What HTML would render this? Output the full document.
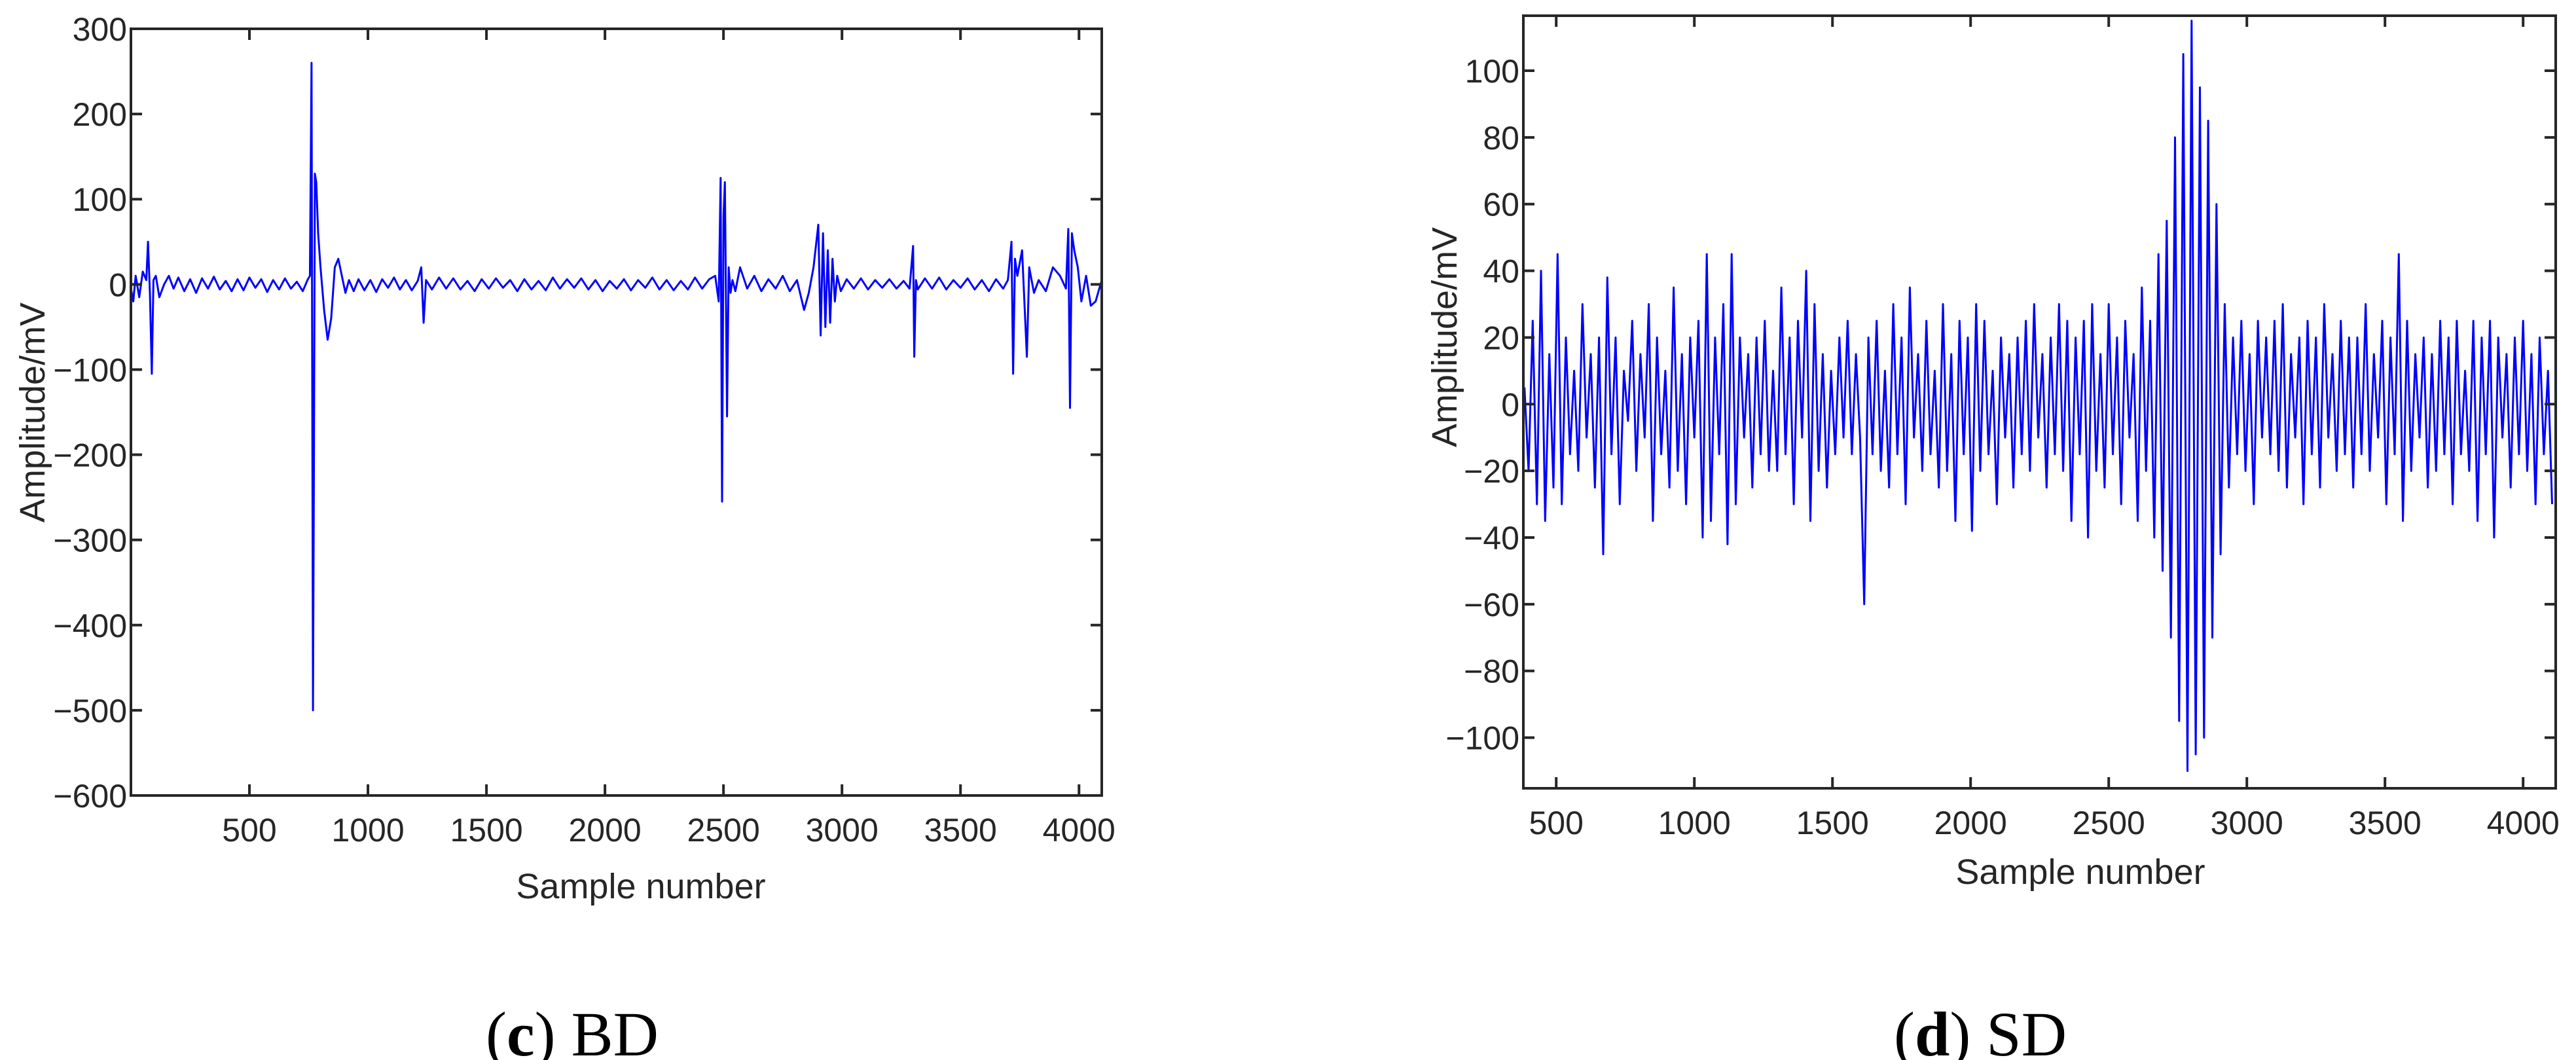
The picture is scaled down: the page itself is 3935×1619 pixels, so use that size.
<!DOCTYPE html>
<html><head><meta charset="utf-8"><style>
html,body{margin:0;padding:0;background:#fff;}
svg{display:block;}
</style></head><body>
<svg id="fig" width="3935" height="1619" viewBox="0 0 3935 1619" xmlns="http://www.w3.org/2000/svg">
<rect width="3935" height="1619" fill="#fff"/>
<g id="chartC"></g>
<g id="chartD"></g>
<text x="874" y="1612" text-anchor="middle" font-family="Liberation Serif, serif" font-size="96" fill="#000">(<tspan font-weight="bold">c</tspan>) BD</text>
<text x="3025" y="1612" text-anchor="middle" font-family="Liberation Serif, serif" font-size="96" fill="#000">(<tspan font-weight="bold">d</tspan>) SD</text>
</svg>
<script>
// ---- Chart (c) BD data ----
const bdSample = [
0,10,20,35,50,65,72,80,88,95,105,120,140,160,180,
200,225,250,275,300,325,350,375,400,425,450,475,500,525,550,575,600,625,650,675,700,725,
745,755,762,768,772,776,782,790,800,815,830,845,860,875,890,905,920,
940,960,985,1010,1035,1060,1085,1110,1135,1160,1185,1210,
1225,1235,1245,
1270,1300,1330,1360,1390,1420,1450,1480,1510,1540,1570,1600,1630,1660,1690,1720,1750,1780,1810,1840,1870,1900,1930,1960,1990,2020,2050,2080,2110,2140,2170,2200,2230,2260,2290,2320,2350,2380,2410,2440,
2465,2480,2488,2494,2500,2506,2515,2522,2530,2538,2550,2570,
2600,2630,2660,2690,2720,2750,2780,2810,2840,2860,2880,
2900,2910,2920,2930,2940,2950,2960,2970,2980,2995,3020,
3050,3080,3110,3140,3170,3200,3230,3260,
3285,3300,3305,3312,3320,
3350,3380,3410,3440,3470,3500,3530,3560,3590,3620,3650,3680,
3700,3715,3722,3730,3740,3760,3780,3790,3800,3810,3830,3860,3890,3920,3945,
3955,3962,3970,3980,3995,4010,4030,4050,4070,4096];
const bdAmp = [
-5,-20,10,-15,15,5,50,-10,-105,5,10,-15,0,10,-5,
8,-8,6,-10,7,-5,9,-6,4,-8,6,-7,8,-4,6,-9,5,-6,7,-5,3,-8,
5,10,260,-500,-220,130,120,60,20,-30,-65,-40,20,30,10,-10,5,
-8,6,-7,5,-9,6,-4,8,-6,5,-7,4,
20,-45,5,
-6,8,-5,7,-6,4,-8,6,-5,7,-4,5,-8,6,-6,4,-7,8,-5,6,-4,7,-6,5,-8,4,-5,6,-7,5,-4,8,-6,5,-7,4,-6,8,-5,6,
10,-20,125,-255,80,120,-155,20,-10,5,-8,20,
-5,10,-8,6,-5,10,-8,5,-30,-10,20,
70,-60,60,-50,40,-45,30,-20,10,-8,6,
-5,7,-6,5,-4,6,-5,4,
-5,45,-85,5,-6,
7,-5,8,-6,5,-4,7,-6,5,-8,6,-5,
5,50,-105,30,10,40,-85,20,5,-10,5,-8,20,10,-5,
65,-145,60,40,20,-20,10,-25,-20,5];
const bdYTicks = [300,200,100,0,-100,-200,-300,-400,-500,-600];
const bdXTicks = [500,1000,1500,2000,2500,3000,3500,4000];

// ---- Chart (d) SD data ----
const sdStart = 385, sdStep = 15;
const sdAmp = [
5,-20,25,-30,40,-35,15,-25,45,-30,20,-15,10,-20,30,-10,15,-25,20,-45,
38,-15,20,-30,10,-5,25,-20,15,-10,30,-35,20,-15,10,-25,35,-20,15,-30,
20,-10,25,-40,45,-35,20,-15,30,-42,45,-30,20,-10,15,-25,20,-15,25,-20,
10,-20,35,-15,20,-30,25,-10,40,-35,30,-20,15,-25,10,-15,20,-10,25,-15,
15,-10,-60,20,-15,25,-20,10,-25,30,-15,20,-30,35,-10,15,-20,25,-15,10,
-25,30,-20,15,-35,25,-15,20,-38,30,-20,25,-15,10,-30,20,-10,15,-25,20,
-15,25,-20,30,-10,15,-25,20,-15,30,-20,25,-35,20,-15,25,-40,30,-20,15,
-25,30,-15,20,-30,25,-10,15,-35,35,-20,25,-40,45,-50,55,-70,80,-95,105,
-110,115,-105,95,-100,85,-70,60,-45,30,-25,20,-15,25,-20,15,-30,25,-10,20,
-15,25,-20,30,-25,15,-10,20,-30,25,-15,20,-25,30,-10,15,-20,25,-15,20,
-25,20,-15,30,-20,15,-10,25,-30,20,-15,45,-35,25,-20,15,-10,20,-25,15,
-20,25,-15,20,-30,25,-15,10,-20,25,-35,20,-15,25,-40,20,-10,15,-25,20,
-15,25,-20,15,-30,20,-15,10,-30];
const sdYTicks = [100,80,60,40,20,0,-20,-40,-60,-80,-100];
const sdXTicks = [500,1000,1500,2000,2500,3000,3500,4000];

const NS = 'http://www.w3.org/2000/svg';
function mk(tag, attrs, parent){ const e=document.createElementNS(NS,tag); for(const k in attrs) e.setAttribute(k,attrs[k]); parent.appendChild(e); return e; }

function drawChart(g, cfg){
  const {L,R,T,B,xmin,xmax,ymin,ymax} = cfg;
  const sx = v => L + (v-xmin)/(xmax-xmin)*(R-L);
  const sy = v => B - (v-ymin)/(ymax-ymin)*(B-T);
  const clip = mk('clipPath',{id:cfg.id+'clip'},g);
  mk('rect',{x:L,y:T,width:R-L,height:B-T},clip);
  const n = Math.min(cfg.xs.length, cfg.ys.length);
  let arr = [];
  for (let i=0;i<n;i++) arr.push(sx(cfg.xs[i]).toFixed(1)+','+sy(cfg.ys[i]).toFixed(1));
  const line = mk('polyline',{points:arr.join(' '),fill:'none',stroke:'#0000ff','stroke-width':3,'stroke-linejoin':'round','clip-path':'url(#'+cfg.id+'clip)'},g);
  
  
  const frame = mk('rect',{x:L,y:T,width:R-L,height:B-T,fill:'none',stroke:'#262626','stroke-width':4},g);
  
  
  const tl = 17;
  cfg.yTicks.forEach(v=>{
    const y = sy(v);
    mk('line',{x1:L,x2:L+tl,y1:y,y2:y,stroke:'#262626','stroke-width':4},g);
    mk('line',{x1:R,x2:R-tl,y1:y,y2:y,stroke:'#262626','stroke-width':4},g);
    const t = mk('text',{x:L-6,y:y+18,'text-anchor':'end','font-family':'Liberation Sans, sans-serif','font-size':50,fill:'#262626'},g);
    t.textContent = String(v).replace('-','\u2212');
    
    
  });
  cfg.xTicks.forEach(v=>{
    const x = sx(v);
    mk('line',{x1:x,x2:x,y1:B,y2:B-tl,stroke:'#262626','stroke-width':4},g);
    mk('line',{x1:x,x2:x,y1:T,y2:T+tl,stroke:'#262626','stroke-width':4},g);
    const t = mk('text',{x:x,y:B+70,'text-anchor':'middle','font-family':'Liberation Sans, sans-serif','font-size':50,fill:'#262626'},g);
    t.textContent = String(v);
    
    
  });
  const xt = mk('text',{x:cfg.xlx,y:cfg.xly,'text-anchor':'middle','font-family':'Liberation Sans, sans-serif','font-size':54,fill:'#262626'},g);
  xt.textContent = 'Sample number';
  
  
  const yt = mk('text',{x:0,y:0,'text-anchor':'middle','font-family':'Liberation Sans, sans-serif','font-size':54,fill:'#262626',transform:'translate('+cfg.ylx+','+cfg.yly+') rotate(-90)'},g);
  yt.textContent = 'Amplitude/mV';
  
  
}

drawChart(document.getElementById('chartC'),{id:'c',L:200,R:1683,T:44,B:1215,xmin:0,xmax:4096,ymin:-600,ymax:300,
  xs:bdSample, ys:bdAmp, yTicks:bdYTicks, xTicks:bdXTicks, xlx:979, xly:1372, ylx:68, yly:630});

const sdSample = sdAmp.map((_,i)=> sdStart + i*sdStep);
drawChart(document.getElementById('chartD'),{id:'d',L:2327,R:3904,T:24,B:1204,xmin:381,xmax:4118,ymin:-115.2,ymax:116.5,
  xs:sdSample, ys:sdAmp, yTicks:sdYTicks, xTicks:sdXTicks, xlx:3178, xly:1350, ylx:2225, yly:515});
</script>
</body></html>
